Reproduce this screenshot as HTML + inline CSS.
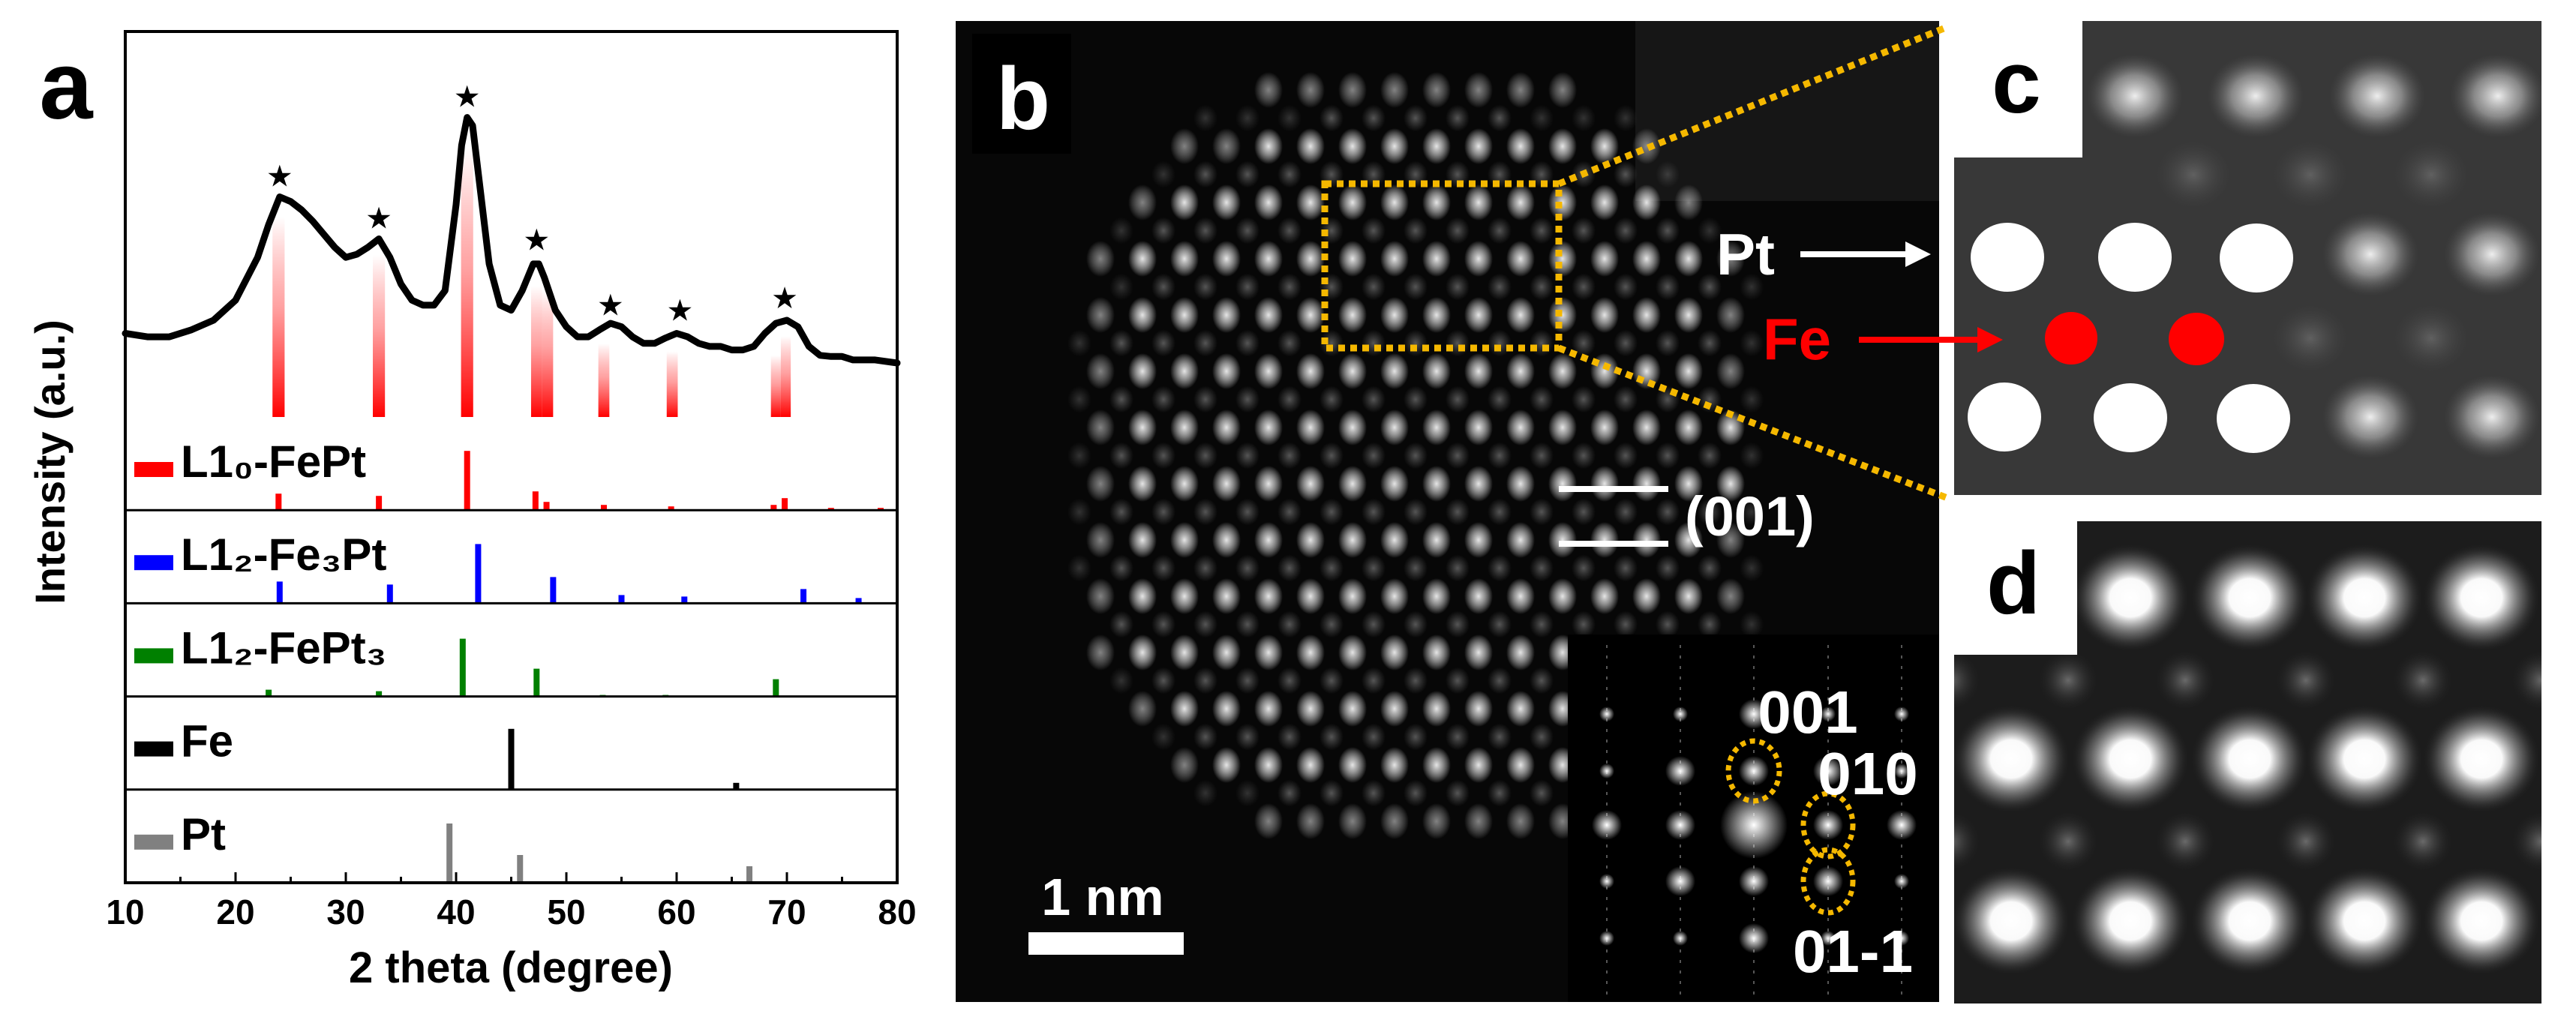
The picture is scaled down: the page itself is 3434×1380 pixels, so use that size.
<!DOCTYPE html>
<html><head><meta charset="utf-8">
<style>
html,body{margin:0;padding:0;background:#fff;}
svg{display:block;font-family:"Liberation Sans",Arial,sans-serif;}
</style></head>
<body>
<svg id="fig" width="3434" height="1380" viewBox="0 0 3434 1380" xmlns="http://www.w3.org/2000/svg">
<defs>
  <clipPath id="clipB"><rect x="1274" y="28" width="1311" height="1308"/></clipPath>
  <clipPath id="clipC"><rect x="2605" y="28" width="783" height="632"/></clipPath>
  <clipPath id="clipD"><rect x="2605" y="695" width="783" height="643"/></clipPath>
  <linearGradient id="redfade" x1="0" y1="0" x2="0" y2="1">
    <stop offset="0" stop-color="#ff0000" stop-opacity="0"/>
    <stop offset="0.45" stop-color="#ff3030" stop-opacity="0.45"/>
    <stop offset="1" stop-color="#ff0000" stop-opacity="1"/>
  </linearGradient>
  <radialGradient id="atom">
    <stop offset="0" stop-color="#fff" stop-opacity="1"/>
    <stop offset="0.4" stop-color="#ddd" stop-opacity="0.75"/>
    <stop offset="1" stop-color="#fff" stop-opacity="0"/>
  </radialGradient>
  <radialGradient id="atomdim">
    <stop offset="0" stop-color="#999" stop-opacity="0.6"/>
    <stop offset="1" stop-color="#777" stop-opacity="0"/>
  </radialGradient>
  <radialGradient id="blob">
    <stop offset="0" stop-color="#eee" stop-opacity="1"/>
    <stop offset="0.5" stop-color="#aaa" stop-opacity="0.7"/>
    <stop offset="1" stop-color="#555" stop-opacity="0"/>
  </radialGradient>
  <radialGradient id="blobdim">
    <stop offset="0" stop-color="#6a6a6a" stop-opacity="0.8"/>
    <stop offset="1" stop-color="#444" stop-opacity="0"/>
  </radialGradient>
  <radialGradient id="dspot">
    <stop offset="0" stop-color="#fff" stop-opacity="1"/>
    <stop offset="0.35" stop-color="#fafafa" stop-opacity="1"/>
    <stop offset="0.75" stop-color="#666" stop-opacity="0.6"/>
    <stop offset="1" stop-color="#222" stop-opacity="0"/>
  </radialGradient>
  <radialGradient id="dspotdim">
    <stop offset="0" stop-color="#6a6a6a" stop-opacity="1"/>
    <stop offset="1" stop-color="#222" stop-opacity="0"/>
  </radialGradient>
  <radialGradient id="fftspot">
    <stop offset="0" stop-color="#fff" stop-opacity="1"/>
    <stop offset="1" stop-color="#fff" stop-opacity="0"/>
  </radialGradient>
</defs>

<!-- ================= PANEL A ================= -->
<g id="panelA">
  <text x="88" y="158" font-size="128" font-weight="bold" text-anchor="middle">a</text>
  <text transform="translate(86,616) rotate(-90)" font-size="56" font-weight="bold" text-anchor="middle">Intensity (a.u.)</text>
  <g id="aPlot"></g>
  <text x="681" y="1310" font-size="58" font-weight="bold" text-anchor="middle">2 theta (degree)</text>
</g>

<!-- ================= PANEL B ================= -->
<g id="panelB">
  <rect x="1274" y="28" width="1311" height="1308" fill="#070707"/>
  <rect x="2180" y="28" width="405" height="240" fill="#161616"/>
  <g id="atoms" clip-path="url(#clipB)"></g>
  <rect x="1296" y="45" width="132" height="160" fill="#000"/>
  <text x="1364" y="172" font-size="118" font-weight="bold" fill="#fff" text-anchor="middle">b</text>
  <line x1="2078" y1="652" x2="2224" y2="652" stroke="#fff" stroke-width="8"/>
  <line x1="2078" y1="725" x2="2224" y2="725" stroke="#fff" stroke-width="8"/>
  <text x="2246" y="714" font-size="74" font-weight="bold" fill="#fff">(001)</text>
  <text x="2288" y="366" font-size="78" font-weight="bold" fill="#fff">Pt</text>
  <text x="2350" y="479" font-size="78" font-weight="bold" fill="#ff0000">Fe</text>
  <text x="1470" y="1220" font-size="70" font-weight="bold" fill="#fff" text-anchor="middle">1 nm</text>
  <rect x="1371" y="1243" width="207" height="30" fill="#fff"/>
  <g>
    <rect x="2090" y="846" width="495" height="490" fill="#000"/>
    <g id="fft"></g>
    <ellipse cx="2338" cy="1028" rx="34" ry="40" fill="none" stroke="#f5b800" stroke-width="7" stroke-dasharray="7,6"/>
    <ellipse cx="2437" cy="1100" rx="33" ry="42" fill="none" stroke="#f5b800" stroke-width="7" stroke-dasharray="7,6"/>
    <ellipse cx="2437" cy="1175" rx="33" ry="42" fill="none" stroke="#f5b800" stroke-width="7" stroke-dasharray="7,6"/>
    <text x="2410" y="977" font-size="80" font-weight="bold" fill="#fff" text-anchor="middle">001</text>
    <text x="2490" y="1059" font-size="80" font-weight="bold" fill="#fff" text-anchor="middle">010</text>
    <text x="2470" y="1296" font-size="80" font-weight="bold" fill="#fff" text-anchor="middle">01-1</text>
  </g>
</g>

<!-- ================= PANEL C ================= -->
<g id="panelC">
  <rect x="2605" y="28" width="783" height="632" fill="#383838"/>
  <g id="cBlobs" clip-path="url(#clipC)"></g>
  <rect x="2605" y="28" width="171" height="182" fill="#fff"/>
  <text x="2688" y="150" font-size="118" font-weight="bold" text-anchor="middle">c</text>
  <g>
    <ellipse cx="2676" cy="343" rx="49" ry="46" fill="#fff"/>
    <ellipse cx="2846" cy="343" rx="49" ry="46" fill="#fff"/>
    <ellipse cx="3008" cy="344" rx="49" ry="46" fill="#fff"/>
    <ellipse cx="2672" cy="556" rx="49" ry="46" fill="#fff"/>
    <ellipse cx="2840" cy="557" rx="49" ry="46" fill="#fff"/>
    <ellipse cx="3004" cy="558" rx="49" ry="46" fill="#fff"/>
  </g>
  <g>
    <ellipse cx="2761" cy="451" rx="35" ry="35" fill="#ff0000"/>
    <ellipse cx="2928" cy="452" rx="37" ry="35" fill="#ff0000"/>
  </g>
</g>

<!-- ================= PANEL D ================= -->
<g id="panelD">
  <rect x="2605" y="695" width="783" height="643" fill="#1c1c1c"/>
  <g id="dSpots" clip-path="url(#clipD)"></g>
  <rect x="2605" y="695" width="164" height="178" fill="#fff"/>
  <text x="2684" y="818" font-size="118" font-weight="bold" text-anchor="middle">d</text>
</g>

<!-- overlays: zoom box, lines, arrows -->
<g>
  <rect x="1766" y="245" width="312" height="219" fill="none" stroke="#f5b800" stroke-width="9" stroke-dasharray="9,7"/>
  <line x1="2078" y1="245" x2="2596" y2="36" stroke="#f5b800" stroke-width="9" stroke-dasharray="9,7"/>
  <line x1="2078" y1="464" x2="2596" y2="664" stroke="#f5b800" stroke-width="9" stroke-dasharray="9,7"/>
  <line x1="2400" y1="339" x2="2545" y2="339" stroke="#fff" stroke-width="8"/>
  <polygon points="2540,322 2574,339 2540,356" fill="#fff"/>
  <line x1="2478" y1="453" x2="2640" y2="453" stroke="#ff0000" stroke-width="8"/>
  <polygon points="2636,436 2670,453 2636,470" fill="#ff0000"/>
</g>
</svg>

<script>
// ---------- Panel A data ----------
const thetaPts = [10,12,14,16,18,20,22,23,24,25,26,27,28,29,30,31,32,33,34,35,36,37,38,39,40,40.5,41,41.5,42,43,44,45,46,47,47.5,48,49,50,51,52,53,54,55,56,57,58,59,60,61,62,63,64,65,66,67,68,69,70,71,72,73,74,75,76,78,80];
const intensityPts = [21.7,20.8,20.8,22.6,25.1,30.3,41.4,49.9,57.1,55.9,53.7,50.8,47.4,44.0,41.4,42.2,44.0,46.2,41.4,34.5,30.3,29.0,29.0,32.8,55.1,70.5,77.7,75.6,63.6,39.7,29.0,27.7,32.8,39.7,39.7,36.2,27.7,23.4,20.8,20.8,22.6,24.3,23.4,20.8,19.1,19.1,20.5,21.7,20.8,19.1,18.3,18.3,17.4,17.4,18.3,21.7,24.3,25.1,23.4,18.3,16.0,15.7,15.7,14.8,14.8,14.0];
const starTheta = [24,33,41,47.3,54,60.3,69.8];
const starIntensity = [57.1,46.2,77.7,40.6,23.6,22.3,25.5];
const fadeTheta = [23.9,33.0,41.0,47.3,48.3,53.4,59.6,69.0,69.9];
const fadeIntensity = [52,42,70,34,33,19,17,16,21];
const fadeWidth = [1.1,1.1,1.1,1.0,1.0,1.0,1.0,0.9,0.9];

const phaseNames = ["L1₀-FePt","L1₂-Fe₃Pt","L1₂-FePt₃","Fe","Pt"];
const phaseColors = ["#ff0000","#0000ff","#008000","#000000","#808080"];
const l10Theta = [23.9,33,41,47.2,48.2,53.4,59.5,68.8,69.8,74,78.5];
const l10Int = [22,19,79,25,11,7,5,7,16,3,3];
const fe3ptTheta = [24,34,42,48.8,55,60.7,71.5,76.5];
const fe3ptInt = [29,25,79,35,11,9,19,7];
const fept3Theta = [23,33,40.6,47.3,53.3,59,69];
const fept3Int = [9,7,77,37,2,2,23];
const feTheta = [45,65.4];
const feInt = [81,9];
const ptTheta = [39.4,45.8,66.6];
const ptInt = [79,37,22];
const phaseTheta = [l10Theta,fe3ptTheta,fept3Theta,feTheta,ptTheta];
const phaseInt = [l10Int,fe3ptInt,fept3Int,feInt,ptInt];
const xTicks = [10,20,30,40,50,60,70,80];

(function(){
  const NS="http://www.w3.org/2000/svg";
  const g=document.getElementById('aPlot');
  const L=167,R=1196,T=42,B=1177,topB=556;
  const subH=(B-topB)/5;
  const x=d=>L+(d-10)*(R-L)/70;
  const yTop=v=>topB-v*(topB-T)/100;
  function mk(tag,attrs,parent){const e=document.createElementNS(NS,tag);for(const k in attrs)e.setAttribute(k,attrs[k]);(parent||g).appendChild(e);return e;}

  for(let i=0;i<fadeTheta.length;i++){
    const w=fadeWidth[i]*(R-L)/70;
    const y0=yTop(fadeIntensity[i]);
    const r=mk('rect',{x:x(fadeTheta[i])-w/2,y:y0,width:w,height:topB-y0,fill:'url(#redfade)'});
    
    
  }
  let d='';
  for(let i=0;i<thetaPts.length;i++){d+=(i?'L':'M')+x(thetaPts[i]).toFixed(1)+','+yTop(intensityPts[i]).toFixed(1);}
  const p=mk('path',{d:d,fill:'none',stroke:'#000','stroke-width':9,'stroke-linejoin':'round','stroke-linecap':'round'});
  
  
  for(let i=0;i<starTheta.length;i++){
    const t=mk('text',{x:x(starTheta[i]),y:yTop(starIntensity[i])-14,'font-size':40,'text-anchor':'middle','font-family':'DejaVu Sans, sans-serif'});
    t.textContent='★';
    
    
  }
  for(let k=0;k<5;k++){
    const top=topB+k*subH, base=top+subH;
    const th=phaseTheta[k], iv=phaseInt[k];
    for(let i=0;i<th.length;i++){
      const r=mk('rect',{x:x(th[i])-4,y:base-iv[i],width:8,height:iv[i],fill:phaseColors[k]});
      
      
    }
    const sw=mk('rect',{x:179,y:top+60,width:52,height:20,fill:phaseColors[k]});
    
    
    const t=mk('text',{x:241,y:top+80,'font-size':60,'font-weight':'bold'});
    t.textContent=phaseNames[k];
    
    
    if(k<4){
      const ln=mk('line',{x1:L,y1:base,x2:R,y2:base,stroke:'#000','stroke-width':3});
      
      
    }
  }
  const fr=mk('rect',{x:L,y:T,width:R-L,height:B-T,fill:'none',stroke:'#000','stroke-width':4});
  
  
  for(let v=10;v<=80;v+=5){
    const tk=mk('line',{x1:x(v),y1:B,x2:x(v),y2:B-(v%10===0?14:8),stroke:'#000','stroke-width':3});
    
    
  }
  for(const v of xTicks){
    const t=mk('text',{x:x(v),y:B+55,'font-size':46,'font-weight':'bold','text-anchor':'middle'});
    t.textContent=v;
    
    
  }
})();

// ---------- image textures ----------
(function(){
  const NS="http://www.w3.org/2000/svg";
  const g=document.getElementById('atoms');
  const cx=1890,cy=610,rx=470,ry=520;
  for(let r=0;r<27;r++){
    const y=120+r*37.5;
    const bright=(r%2===0);
    const off=bright?0:28;
    for(let i=-2;i<20;i++){
      const x=1411+off+i*56;
      const dx=(x-cx)/rx, dy=(y-cy)/ry;
      const dd=Math.pow(Math.abs(dx),2.6)+Math.pow(Math.abs(dy),2.6);
      if(dd>1)continue;
      const e=document.createElementNS(NS,'ellipse');
      e.setAttribute('cx',x);e.setAttribute('cy',y);
      e.setAttribute('rx',bright?19:16);e.setAttribute('ry',bright?24:18);
      e.setAttribute('fill',bright?'url(#atom)':'url(#atomdim)');
      e.setAttribute('opacity',(dd>0.75?0.5:0.9));
      g.appendChild(e);
    }
  }
  const f=document.getElementById('fft');
  const fx=[2142,2240,2338,2437,2535], fy=[952,1028,1100,1175,1251];
  for(let a=0;a<5;a++){
    const ln=document.createElementNS(NS,'line');
    ln.setAttribute('x1',fx[a]);ln.setAttribute('x2',fx[a]);ln.setAttribute('y1',860);ln.setAttribute('y2',1330);
    ln.setAttribute('stroke','#555');ln.setAttribute('stroke-width',2);ln.setAttribute('stroke-dasharray','4,10');
    f.appendChild(ln);
    for(let b=0;b<5;b++){
      const s=document.createElementNS(NS,'circle');
      const c=(a===2&&b===2);
      const near=Math.abs(a-2)+Math.abs(b-2);
      s.setAttribute('cx',fx[a]);s.setAttribute('cy',fy[b]);
      s.setAttribute('r',c?45:(near<=2?20:10));
      s.setAttribute('fill','url(#fftspot)');
      f.appendChild(s);
    }
  }
  const cb=document.getElementById('cBlobs');
  const blobs=[[2846,128],[3007,128],[3169,128],[3330,128],[3160,339],[3322,339],[3160,556],[3322,556]];
  const dim=[[2924,233],[3080,233],[3241,233],[3080,451],[3241,451]];
  for(const [x,y] of dim){const e=document.createElementNS(NS,'ellipse');e.setAttribute('cx',x);e.setAttribute('cy',y);e.setAttribute('rx',50);e.setAttribute('ry',45);e.setAttribute('fill','url(#blobdim)');cb.appendChild(e);}
  for(const [x,y] of blobs){const e=document.createElementNS(NS,'ellipse');e.setAttribute('cx',x);e.setAttribute('cy',y);e.setAttribute('rx',64);e.setAttribute('ry',56);e.setAttribute('fill','url(#blob)');cb.appendChild(e);}
  const ds=document.getElementById('dSpots');
  const rowsY=[797,1012,1228];
  const colsX=[2681,2840,2999,3152,3308];
  const feY=[907,1122], feX=[2600,2757,2913,3074,3230,3388];
  for(const y of feY)for(const x of feX){const e=document.createElementNS(NS,'ellipse');e.setAttribute('cx',x);e.setAttribute('cy',y);e.setAttribute('rx',40);e.setAttribute('ry',40);e.setAttribute('fill','url(#dspotdim)');ds.appendChild(e);}
  rowsY.forEach((y,ri)=>{for(const x of colsX){if(ri===0&&x<2760)continue;const e=document.createElementNS(NS,'ellipse');e.setAttribute('cx',x);e.setAttribute('cy',y);e.setAttribute('rx',78);e.setAttribute('ry',72);e.setAttribute('fill','url(#dspot)');ds.appendChild(e);}});
})();
</script>
</body></html>
